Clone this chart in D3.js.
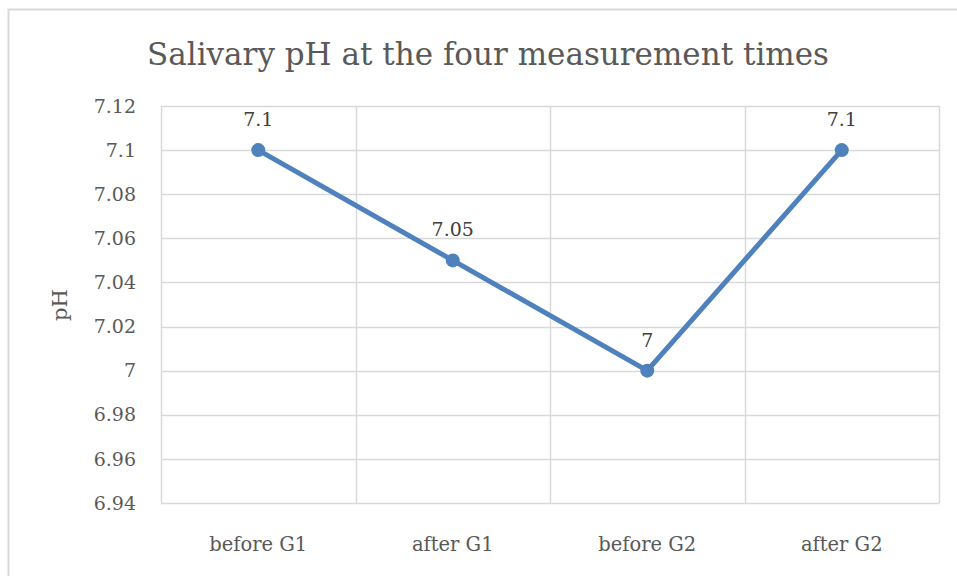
<!DOCTYPE html>
<html>
<head>
<meta charset="utf-8">
<script src="https://cdn.jsdelivr.net/npm/d3@7"></script>
<style>
  body { margin: 0; background: #fff; }
  svg { display: block; font-family: "DejaVu Serif", serif; }
</style>
</head>
<body>
<svg id="chart" width="957" height="576"></svg>
<script>
const categories = ["before G1", "after G1", "before G2", "after G2"];
const phValues = [7.1, 7.05, 7, 7.1];
const yTicks = [6.94, 6.96, 6.98, 7, 7.02, 7.04, 7.06, 7.08, 7.1, 7.12];

const width = 957, height = 576;
const margin = { top: 106, right: 18, bottom: 73, left: 161 };
const textColor = "#595959";
const lineColor = "#4f81bd";

const svg = d3.select("#chart");

// chart frame
svg.append("rect")
    .attr("x", 8.5).attr("y", 9.5)
    .attr("width", 960).attr("height", 580)
    .attr("fill", "#fff")
    .attr("stroke", "#d9d9d9")
    .attr("stroke-width", 2);

const x = d3.scaleBand()
    .domain(categories)
    .range([margin.left, width - margin.right]);

const y = d3.scaleLinear()
    .domain([6.94, 7.12])
    .range([height - margin.bottom, margin.top]);

// horizontal grid
svg.append("g")
    .selectAll("line")
    .data(yTicks)
    .join("line")
    .attr("x1", margin.left)
    .attr("x2", width - margin.right)
    .attr("y1", d => Math.round(y(d)) + 0.5)
    .attr("y2", d => Math.round(y(d)) + 0.5)
    .attr("stroke", "#d9d9d9")
    .attr("stroke-width", 1.5);

// vertical grid (category boundaries)
const bounds = categories.map(c => x(c)).concat([x.range()[1]]);
svg.append("g")
    .selectAll("line")
    .data(bounds)
    .join("line")
    .attr("x1", d => Math.round(d) + 0.5)
    .attr("x2", d => Math.round(d) + 0.5)
    .attr("y1", y(7.12))
    .attr("y2", y(6.94))
    .attr("stroke", "#d9d9d9")
    .attr("stroke-width", 1.5);

// y tick labels
svg.append("g")
    .attr("text-anchor", "end")
    .attr("fill", textColor)
    .style("font-size", "19px")
    .selectAll("text")
    .data(yTicks)
    .join("text")
    .attr("x", 136)
    .attr("y", d => y(d))
    .attr("dy", "0.35em")
    .text(d => d3.format("")(d));

// x labels
svg.append("g")
    .attr("text-anchor", "middle")
    .attr("fill", textColor)
    .style("font-size", "19.5px")
    .selectAll("text")
    .data(categories)
    .join("text")
    .attr("x", d => x(d) + x.bandwidth() / 2)
    .attr("y", 551)
    .text(d => d);

// line
const line = d3.line()
    .x((d, i) => x(categories[i]) + x.bandwidth() / 2)
    .y(d => y(d));

svg.append("path")
    .datum(phValues)
    .attr("d", line)
    .attr("fill", "none")
    .attr("stroke", lineColor)
    .attr("stroke-width", 5)
    .attr("stroke-linejoin", "round");

svg.append("g")
    .selectAll("circle")
    .data(phValues)
    .join("circle")
    .attr("cx", (d, i) => x(categories[i]) + x.bandwidth() / 2)
    .attr("cy", d => y(d))
    .attr("r", 7)
    .attr("fill", lineColor);

// data labels
svg.append("g")
    .attr("text-anchor", "middle")
    .attr("fill", "#404040")
    .style("font-size", "19px")
    .selectAll("text")
    .data(phValues)
    .join("text")
    .attr("x", (d, i) => x(categories[i]) + x.bandwidth() / 2)
    .attr("y", d => y(d) - 24)
    .text(d => d3.format("")(d));

// title
svg.append("text")
    .attr("x", 488)
    .attr("y", 65)
    .attr("text-anchor", "middle")
    .attr("fill", textColor)
    .style("font-size", "31px")
    .text("Salivary pH at the four measurement times");

// y axis title
svg.append("text")
    .attr("transform", "translate(67,305) rotate(-90)")
    .attr("text-anchor", "middle")
    .attr("fill", textColor)
    .style("font-size", "21px")
    .text("pH");
</script>
</body>
</html>
